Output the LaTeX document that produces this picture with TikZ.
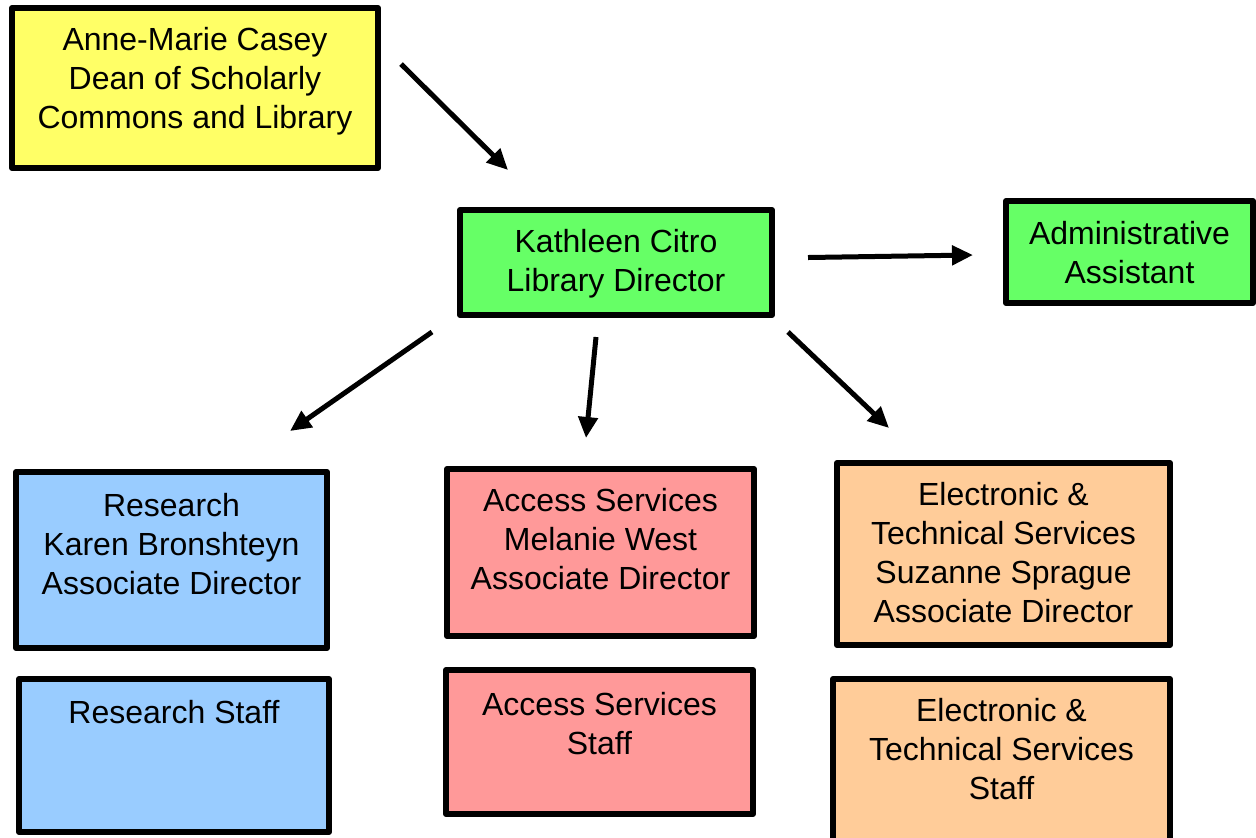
\documentclass[tikz,border=0pt]{standalone}
\usepackage{fontspec}
\setmainfont{Liberation Sans}
\usetikzlibrary{positioning,arrows.meta}
\definecolor{amarillo}{HTML}{FFFF66}
\definecolor{verde}{HTML}{66FF66}
\definecolor{azul}{HTML}{99CCFF}
\definecolor{rosa}{HTML}{FF9999}
\definecolor{durazno}{HTML}{FFCC99}
\begin{document}
\begin{tikzpicture}[
    x=0.5pt, y=-0.5pt,
    caja/.style={draw, line width=3pt, line join=round, fill=#1, outer sep=0pt},
    texto/.style={align=center, inner sep=0pt, font=\fontsize{16}{19.5}\selectfont},
    flecha/.style={line width=2.5pt, -{Triangle[length=10.5pt,width=9.5pt]}}]
    \useasboundingbox (0,0) rectangle (1256,837);

    % Decanato.
    \node[caja=amarillo, minimum width=183pt, minimum height=80pt] (dean) at (195,88) {};
    \node[texto, below=9.5pt of dean.north] (deanTxt)
        {Anne-Marie Casey\\Dean of Scholarly\\Commons and Library};

    % Direccion y asistente.
    \node[caja=verde, minimum width=156pt, minimum height=52.5pt] (director) at (616,262.5) {};
    \node[texto, below=9.5pt of director.north] (directorTxt)
        {Kathleen Citro\\Library Director};
    \node[caja=verde, minimum width=123.5pt, minimum height=51pt] (admin) at (1129.5,252) {};
    \node[texto, below=10pt of admin.north] (adminTxt)
        {Administrative\\Assistant};

    % Areas con sus directores asociados.
    \node[caja=azul, minimum width=155.5pt, minimum height=88pt] (research) at (171.5,560) {};
    \node[texto, below=10.5pt of research.north] (researchTxt)
        {Research\\Karen Bronshteyn\\Associate Director};
    \node[caja=rosa, minimum width=153.5pt, minimum height=83.5pt] (access) at (600.5,552.5) {};
    \node[texto, below=9.5pt of access.north] (accessTxt)
        {Access Services\\Melanie West\\Associate Director};
    \node[caja=durazno, minimum width=166.5pt, minimum height=91pt] (etech) at (1003.5,554) {};
    \node[texto, below=9.5pt of etech.north] (etechTxt)
        {Electronic \&\\Technical Services\\Suzanne Sprague\\Associate Director};

    % Personal de cada area.
    \node[caja=azul, minimum width=155pt, minimum height=76.5pt] (researchStaff) at (174,755.5) {};
    \node[texto, below=10.5pt of researchStaff.north] (researchStaffTxt)
        {Research Staff};
    \node[caja=rosa, minimum width=153.5pt, minimum height=72pt] (accessStaff) at (599.5,742) {};
    \node[texto, below=11pt of accessStaff.north] (accessStaffTxt)
        {Access Services\\Staff};
    \node[caja=durazno, minimum width=168.5pt, minimum height=85.5pt] (etechStaff) at (1001.5,764.5) {};
    \node[texto, below=9.5pt of etechStaff.north] (etechStaffTxt)
        {Electronic \&\\Technical Services\\Staff};

    % Extremos de las flechas.
    \coordinate (deanOut) at (401,64);
    \coordinate (directorIn) at (508,170);
    \coordinate (directorEast) at (808,257.5);
    \coordinate (adminIn) at (973,255);
    \coordinate (directorSW) at (432,332);
    \coordinate (researchIn) at (290,431);
    \coordinate (directorS) at (596,337);
    \coordinate (accessIn) at (586,438);
    \coordinate (directorSE) at (788,332);
    \coordinate (etechIn) at (889,428);

    % Flechas.
    \draw[flecha] (deanOut) -- (directorIn);
    \draw[flecha] (directorEast) -- (adminIn);
    \draw[flecha] (directorSW) -- (researchIn);
    \draw[flecha] (directorS) -- (accessIn);
    \draw[flecha] (directorSE) -- (etechIn);
\end{tikzpicture}
\end{document}
